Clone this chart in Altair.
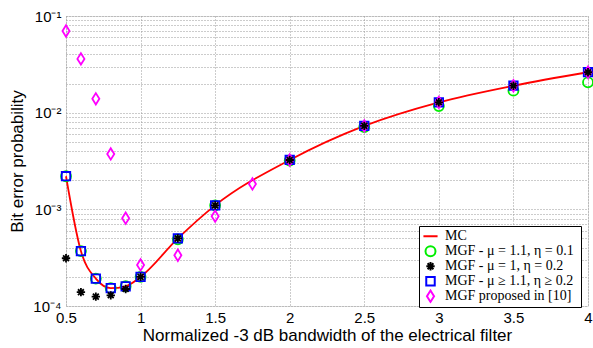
import altair as alt
import pandas as pd

x_main = [0.5, 0.6, 0.7, 0.8, 0.9, 1.0, 1.25, 1.5, 2.0, 2.5, 3.0, 3.5, 4.0]
mc = [2.2e-3, 3.7e-4, 1.92e-4, 1.53e-4, 1.6e-4, 2.0e-4, 5.0e-4, 1.1e-3, 3.24e-3, 7.3e-3, 1.28e-2, 1.9e-2, 2.62e-2]
mgf_circle = [2.2e-3, 3.7e-4, 1.92e-4, 1.53e-4, 1.6e-4, 2.0e-4, 4.9e-4, 1.1e-3, 3.2e-3, 7.1e-3, 1.17e-2, 1.69e-2, 2.06e-2]
mgf_star = [3.12e-4, 1.39e-4, 1.25e-4, 1.29e-4, 1.5e-4, 2.0e-4, 5.0e-4, 1.1e-3, 3.24e-3, 7.3e-3, 1.28e-2, 1.9e-2, 2.62e-2]
mgf_square = [2.2e-3, 3.7e-4, 1.92e-4, 1.53e-4, 1.6e-4, 2.0e-4, 5.0e-4, 1.1e-3, 3.24e-3, 7.3e-3, 1.28e-2, 1.9e-2, 2.62e-2]
x_diamond = [0.5, 0.6, 0.7, 0.8, 0.9, 1.0, 1.25, 1.5, 1.75, 2.0, 2.5, 3.0, 3.5, 4.0]
mgf_diamond = [7.0e-2, 3.6e-2, 1.39e-2, 3.74e-3, 8.1e-4, 2.66e-4, 3.35e-4, 8.5e-4, 1.83e-3, 3.24e-3, 7.3e-3, 1.28e-2, 1.9e-2, 2.62e-2]

names = ["MC",
         "MGF -  \u03bc = 1.1, \u03b7 = 0.1",
         "MGF -  \u03bc = 1, \u03b7 = 0.2",
         "MGF -  \u03bc \u2265 1.1, \u03b7 \u2265 0.2",
         "MGF proposed in [10]"]
colors = ["#ff0000", "#00ee00", "#000000", "#0000ff", "#ff00ff"]
shapes = ["stroke", "circle",
          "M-1,0L1,0M0,-1L0,1M-0.7,-0.7L0.7,0.7M-0.7,0.7L0.7,-0.7",
          "square",
          "M0,-1L0.62,0L0,1L-0.62,0Z"]
sizes = [200, 100, 70, 72, 130]

y_ticks = [1e-4, 2e-4, 3e-4, 4e-4, 5e-4, 6e-4, 7e-4, 8e-4, 9e-4,
           1e-3, 2e-3, 3e-3, 4e-3, 5e-3, 6e-3, 7e-3, 8e-3, 9e-3,
           1e-2, 2e-2, 3e-2, 4e-2, 5e-2, 6e-2, 7e-2, 8e-2, 9e-2, 1e-1]
x_ticks = [0.5, 1, 1.5, 2, 2.5, 3, 3.5, 4]

line_df = pd.DataFrame({"x": x_main, "y": mc, "series": names[0]})
pts = []
order = {names[1]: 0, names[3]: 1, names[4]: 2, names[2]: 3}
for nm, xs, ys in [(names[1], x_main, mgf_circle), (names[3], x_main, mgf_square),
                   (names[4], x_diamond, mgf_diamond), (names[2], x_main, mgf_star)]:
    for a, b in zip(xs, ys):
        pts.append({"x": a, "y": b, "series": nm, "ord": order[nm]})
pts_df = pd.DataFrame(pts)

xscale = alt.Scale(domain=[0.5, 4], nice=False)
yscale = alt.Scale(type="log", domain=[1e-4, 1e-1], nice=False)

label_expr = ("datum.value == 0.1 ? '10\u207b\u00b9' : datum.value == 0.01 ? '10\u207b\u00b2' : "
              "datum.value == 0.001 ? '10\u207b\u00b3' : datum.value == 0.0001 ? '10\u207b\u2074' : ''")

xaxis = alt.Axis(values=x_ticks, format="~g", title="Normalized -3 dB bandwidth of the electrical filter",
                 grid=True, gridDash=[1, 2], gridColor="#999", ticks=False,
                 labelFont="Liberation Sans", labelFontSize=15, labelColor="black",
                 titleFont="Liberation Sans", titleFontSize=17, titleFontWeight="normal",
                 titleColor="black", labelPadding=4, titlePadding=2, domain=False,
                 labelFlush=False)
yaxis = alt.Axis(values=y_ticks, labelExpr=label_expr, title="Bit error probability",
                 grid=True, gridDash=[1, 2], gridColor="#999", ticks=False,
                 labelFont="Liberation Sans", labelFontSize=15, labelColor="black",
                 titleFont="Liberation Sans", titleFontSize=17, titleFontWeight="normal",
                 titleColor="black", labelPadding=5, titlePadding=6, domain=False)

legend = alt.Legend(orient="none", legendX=353, legendY=210, title=None,
                    strokeColor="black", fillColor="white", padding=3,
                    labelFont="Liberation Serif", labelFontSize=14, labelColor="black",
                    symbolStrokeWidth=2, rowPadding=0, clipHeight=14.5,
                    labelLimit=300, labelOffset=6)

color_enc = alt.Color("series:N", scale=alt.Scale(domain=names, range=colors), legend=legend)

line = alt.Chart(line_df).mark_line(strokeWidth=1.8, interpolate="monotone").encode(
    x=alt.X("x:Q", scale=xscale, axis=xaxis),
    y=alt.Y("y:Q", scale=yscale, axis=yaxis),
    color=color_enc,
)

points = alt.Chart(pts_df).mark_point(filled=False, strokeWidth=1.8, opacity=1).encode(
    x=alt.X("x:Q", scale=xscale),
    y=alt.Y("y:Q", scale=yscale),
    color=color_enc,
    shape=alt.Shape("series:N", scale=alt.Scale(domain=names, range=shapes), legend=legend),
    size=alt.Size("series:N", scale=alt.Scale(type="ordinal", domain=names, range=sizes), legend=legend),
    order=alt.Order("ord:Q"),
)

chart = alt.layer(line, points).properties(
    width=522, height=290,
    autosize=alt.AutoSizeParams(type="none"),
    padding={"left": 66, "top": 16, "right": 5, "bottom": 42},
).configure_view(stroke="#666", strokeWidth=1).configure(background="white")

chart.save("out.html", embed_options={"renderer": "svg", "actions": False})
